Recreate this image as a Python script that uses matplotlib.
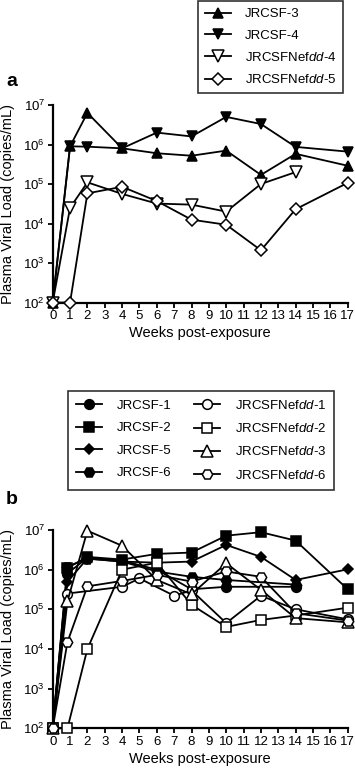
import matplotlib
matplotlib.use("Agg")
import matplotlib.pyplot as plt
from matplotlib.ticker import LogLocator, LogFormatterSciNotation, NullLocator, FixedLocator

plt.rcParams['font.family'] = ['Liberation Sans', 'DejaVu Sans']
plt.rcParams['mathtext.fontset'] = 'custom'
plt.rcParams['mathtext.rm'] = 'Liberation Sans'
plt.rcParams['mathtext.it'] = 'Liberation Sans:italic'
plt.rcParams['mathtext.bf'] = 'Liberation Sans:bold'

# ---------------- Panel a data ----------------
a_weeks_jrcsf3 = [0, 1, 2, 4, 6, 8, 10, 12, 14, 17]
a_vals_jrcsf3 = [1e2, 9e5, 6.3e6, 8e5, 6e5, 5.2e5, 7e5, 1.7e5, 5.8e5, 2.9e5]
a_weeks_jrcsf4 = [0, 1, 2, 4, 6, 8, 10, 12, 14, 17]
a_vals_jrcsf4 = [1e2, 9e5, 8.8e5, 8e5, 2e6, 1.6e6, 5e6, 3.3e6, 8.7e5, 6.6e5]
a_weeks_nef4 = [0, 1, 2, 4, 6, 8, 10, 12, 14]
a_vals_nef4 = [1e2, 2.5e4, 1.1e5, 5.6e4, 3.2e4, 3e4, 2e4, 1e5, 2e5]
a_weeks_nef5 = [0, 1, 2, 4, 6, 8, 10, 12, 14, 17]
a_vals_nef5 = [1e2, 1e2, 5.8e4, 8.5e4, 3.7e4, 1.25e4, 9.3e3, 2.1e3, 2.3e4, 1.07e5]
a_labels = ["JRCSF-3", "JRCSF-4", "JRCSFNef$\\mathit{dd}$-4", "JRCSFNef$\\mathit{dd}$-5"]

# ---------------- Panel b data ----------------
b_weeks_jrcsf1 = [0, 0.85, 2, 4, 6, 8, 10, 14]
b_vals_jrcsf1 = [1e2, 8e5, 2e6, 1.7e6, 1e6, 3.2e5, 3.7e5, 3.7e5]
b_weeks_jrcsf2 = [0, 0.85, 2, 4, 6, 8, 10, 12, 14, 17]
b_vals_jrcsf2 = [1e2, 1.1e6, 2.1e6, 1.8e6, 2.5e6, 2.7e6, 7.2e6, 8.8e6, 5.4e6, 3.2e5]
b_weeks_jrcsf5 = [0, 0.85, 2, 4, 6, 8, 10, 12, 14, 17]
b_vals_jrcsf5 = [1e2, 5e5, 1.9e6, 1.6e6, 1.5e6, 1.6e6, 4.2e6, 2.1e6, 5.5e5, 1.02e6]
b_weeks_jrcsf6 = [0, 0.85, 2, 4, 6, 8, 10, 14]
b_vals_jrcsf6 = [1e2, 1.2e6, 1.9e6, 1.6e6, 9e5, 6.6e5, 5.5e5, 4.2e5]
b_weeks_nef1 = [0, 0.85, 4, 5, 7, 8, 10, 12, 14, 17]
b_vals_nef1 = [1e2, 2.5e5, 3.7e5, 6e5, 2.2e5, 3e5, 4.5e4, 2.2e5, 1e5, 5.6e4]
b_weeks_nef2 = [0, 0.85, 2, 4, 6, 8, 10, 12, 14, 17]
b_vals_nef2 = [1e2, 1e2, 1e4, 1e6, 1.5e6, 1.3e5, 3.6e4, 5.4e4, 7e4, 1.1e5]
b_weeks_nef3 = [0, 0.85, 2, 4, 6, 8, 10, 12, 14, 17]
b_vals_nef3 = [1e2, 1.6e5, 9.6e6, 4e6, 5.5e5, 2.4e5, 1.45e6, 3.1e5, 6e4, 4.7e4]
b_weeks_nef6 = [0, 0.85, 2, 4, 6, 8, 10, 12, 14, 17]
b_vals_nef6 = [1e2, 1.5e4, 3.8e5, 5.2e5, 7.4e5, 5e5, 9e5, 6.6e5, 8e4, 5.2e4]
b_labels = ["JRCSF-1", "JRCSF-2", "JRCSF-5", "JRCSF-6",
            "JRCSFNef$\\mathit{dd}$-1", "JRCSFNef$\\mathit{dd}$-2",
            "JRCSFNef$\\mathit{dd}$-3", "JRCSFNef$\\mathit{dd}$-6"]

x_ticks = list(range(0, 18))
x_label = "Weeks post-exposure"
y_label = "Plasma Viral Load (copies/mL)"

W, H = 355, 769
fig = plt.figure(figsize=(W / 100, H / 100), dpi=100)
fig.patch.set_facecolor('white')

FS_TICK = 9.5
FS_LAB = 10.5
FS_LEG = 9.5
LW = 1.3
MEW = 1.1


def style_axes(ax):
    ax.set_yscale('log')
    ax.set_ylim(1e2, 1e7)
    ax.set_xlim(0, 17)
    ax.yaxis.set_major_locator(LogLocator(base=10, numticks=10))
    ax.yaxis.set_major_formatter(LogFormatterSciNotation())
    ax.yaxis.set_minor_locator(NullLocator())
    ax.xaxis.set_major_locator(FixedLocator(x_ticks))
    ax.set_xticklabels([str(t) for t in x_ticks])
    for s in ['top', 'right']:
        ax.spines[s].set_visible(False)
    for s in ['left', 'bottom']:
        ax.spines[s].set_linewidth(1.6)
    ax.tick_params(axis='both', which='major', direction='out', length=3.5,
                   width=1.3, labelsize=FS_TICK, pad=2)
    ax.set_xlabel(x_label, fontsize=FS_LAB, labelpad=3)
    ax.set_ylabel(y_label, fontsize=FS_LAB)
    ax.yaxis.set_label_coords(-0.128, 0.5)


def draw(ax, x, y, marker, filled, ms, label):
    return ax.plot(x, y, color='black', lw=LW, marker=marker, ms=ms,
                   markerfacecolor='black' if filled else 'white',
                   markeredgecolor='black', markeredgewidth=MEW,
                   clip_on=False, zorder=3, label=label)[0]


# ---------------- Panel a ----------------
axa = fig.add_axes([52.7 / W, 1 - 302.5 / H, 295 / W, 197.5 / H])
style_axes(axa)
ha = []
ha.append(draw(axa, a_weeks_jrcsf3, a_vals_jrcsf3, '^', True, 7.5, a_labels[0]))
ha.append(draw(axa, a_weeks_jrcsf4, a_vals_jrcsf4, 'v', True, 7.5, a_labels[1]))
ha.append(draw(axa, a_weeks_nef4, a_vals_nef4, 'v', False, 8, a_labels[2]))
ha.append(draw(axa, a_weeks_nef5, a_vals_nef5, 'D', False, 6.5, a_labels[3]))

lega = fig.legend(handles=ha, loc='upper left',
                  bbox_to_anchor=(197.7 / W, 1 - 0.7 / H),
                  fontsize=FS_LEG, frameon=True, fancybox=False, numpoints=1,
                  handlelength=2.0, handletextpad=1.0, labelspacing=0.7,
                  borderpad=0.55, borderaxespad=0)
lega.get_frame().set_edgecolor('black')
lega.get_frame().set_linewidth(1.2)

fig.text(6 / W, 1 - 81 / H, 'a', fontsize=14, fontweight='bold', va='center', ha='left')

# ---------------- Panel b ----------------
axb = fig.add_axes([52.7 / W, 1 - 728.3 / H, 295 / W, 198.3 / H])
style_axes(axb)
hb = []
hb.append(draw(axb, b_weeks_jrcsf1, b_vals_jrcsf1, 'o', True, 7, b_labels[0]))
hb.append(draw(axb, b_weeks_jrcsf2, b_vals_jrcsf2, 's', True, 6.5, b_labels[1]))
hb.append(draw(axb, b_weeks_jrcsf5, b_vals_jrcsf5, 'D', True, 5.5, b_labels[2]))
hb.append(draw(axb, b_weeks_jrcsf6, b_vals_jrcsf6, 'H', True, 7.5, b_labels[3]))
hb.append(draw(axb, b_weeks_nef1, b_vals_nef1, 'o', False, 7, b_labels[4]))
hb.append(draw(axb, b_weeks_nef2, b_vals_nef2, 's', False, 7, b_labels[5]))
hb.append(draw(axb, b_weeks_nef3, b_vals_nef3, '^', False, 8, b_labels[6]))
hb.append(draw(axb, b_weeks_nef6, b_vals_nef6, 'H', False, 7.5, b_labels[7]))

legb = fig.legend(handles=hb, loc='upper left', ncol=2,
                  bbox_to_anchor=(67.7 / W, 1 - 391 / H),
                  fontsize=FS_LEG, frameon=True, fancybox=False, numpoints=1,
                  handlelength=2.0, handletextpad=1.1, labelspacing=0.78,
                  columnspacing=1.7, borderpad=0.6, borderaxespad=0)
legb.get_frame().set_edgecolor('black')
legb.get_frame().set_linewidth(1.2)

fig.text(6 / W, 1 - 500 / H, 'b', fontsize=14, fontweight='bold', va='center', ha='left')

fig.savefig('out.png', dpi=100, facecolor='white')
